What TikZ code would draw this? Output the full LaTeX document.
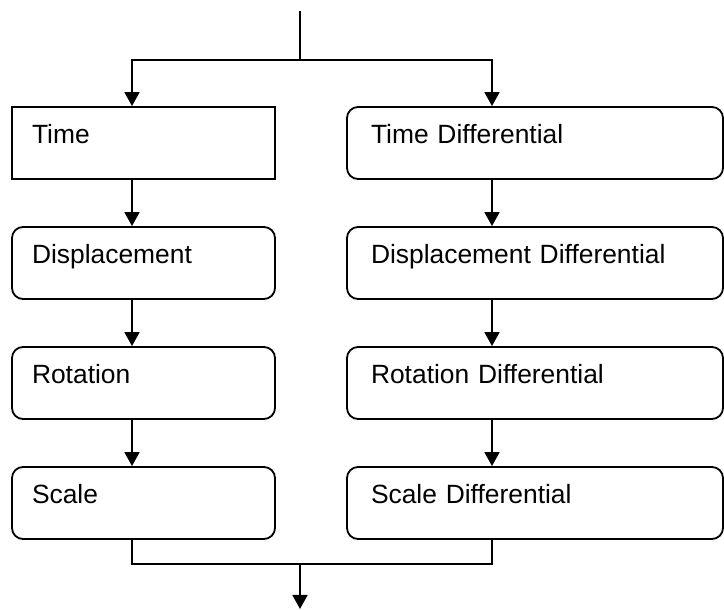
\documentclass[tikz,border=0pt]{standalone}
\usepackage{fontspec}
\setmainfont{Liberation Sans}
\usetikzlibrary{arrows.meta}
\newcommand{\stagefont}{\fontsize{26.4}{30}\selectfont}

\begin{document}
\begin{tikzpicture}[x=1pt,y=1pt,
    stage/.style={draw,line width=1.8pt,inner ysep=0pt,text height=37pt,text depth=35pt,
      align=left,font=\stagefont},
    leftstage/.style={stage,inner xsep=20pt,text width=223pt},
    rightstage/.style={stage,inner xsep=24pt,text width=328pt},
    flow/.style={line width=1.8pt},
    flowarrow/.style={flow,-{Triangle[length=14pt,width=15pt]}}]
  \useasboundingbox (0,0) rectangle (724,610);

  % Columns of connectors.
  \coordinate (lcol) at (132,0);
  \coordinate (rcol) at (492,0);
  \coordinate (in) at (300,599);
  \coordinate (split) at (300,550);
  \coordinate (join) at (300,46);
  \coordinate (out) at (300,1);

  % Left chain.
  \node[leftstage] (time) at (143.5,467) {Time};
  \node[leftstage,rounded corners=11pt] (disp) at (143.5,347) {Displacement};
  \node[leftstage,rounded corners=11pt] (rot) at (143.5,227) {Rotation};
  \node[leftstage,rounded corners=11pt] (scale) at (143.5,107) {Scale};

  % Right chain.
  \node[rightstage,rounded corners=11pt] (timediff) at (535,467) {Time Differential};
  \node[rightstage,rounded corners=11pt] (dispdiff) at (535,347) {Displacement Differential};
  \node[rightstage,rounded corners=11pt] (rotdiff) at (535,227) {Rotation Differential};
  \node[rightstage,rounded corners=11pt] (scalediff) at (535,107) {Scale Differential};

  % Split at the top.
  \draw[flow] (in) -- (split);
  \draw[flowarrow] (split) -| (time.north -| lcol);
  \draw[flowarrow] (split) -| (timediff.north -| rcol);

  \draw[flowarrow] (time.south -| lcol) -- (disp.north -| lcol);
  \draw[flowarrow] (disp.south -| lcol) -- (rot.north -| lcol);
  \draw[flowarrow] (rot.south -| lcol) -- (scale.north -| lcol);
  \draw[flowarrow] (timediff.south -| rcol) -- (dispdiff.north -| rcol);
  \draw[flowarrow] (dispdiff.south -| rcol) -- (rotdiff.north -| rcol);
  \draw[flowarrow] (rotdiff.south -| rcol) -- (scalediff.north -| rcol);

  % Join at the bottom.
  \draw[flow] (scale.south -| lcol) |- (join);
  \draw[flow] (scalediff.south -| rcol) |- (join);
  \draw[flowarrow] (join) -- (out);
\end{tikzpicture}
\end{document}
